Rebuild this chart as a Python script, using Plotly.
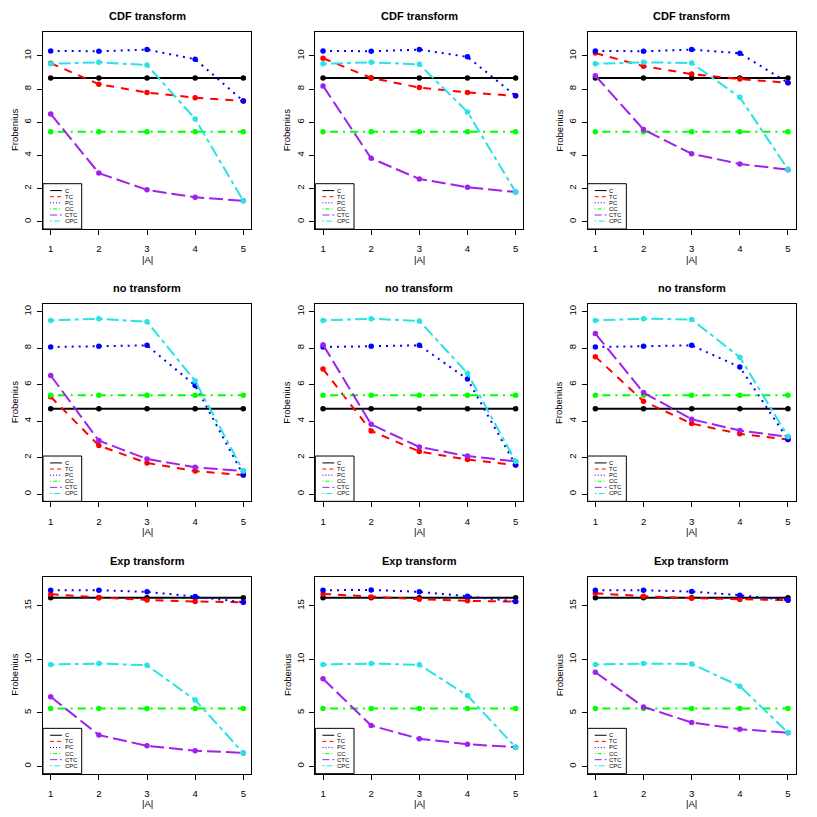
import plotly.graph_objects as go

# |A| values on the x axis
A = [1, 2, 3, 4, 5]
series = ["C", "TC", "PC", "CC", "CTC", "CPC"]
row_titles = ["CDF transform", "no transform", "Exp transform"]

# constant baselines per row
C_cdf = [8.67, 8.67, 8.67, 8.67, 8.67]
C_none = [4.67, 4.67, 4.67, 4.67, 4.67]
C_exp = [15.75, 15.75, 15.75, 15.75, 15.75]
CC_all = [5.42, 5.42, 5.42, 5.42, 5.42]

# CTC / CPC do not change with the transform, only with the column
CTC_col = [
    [6.50, 2.93, 1.92, 1.47, 1.26],
    [8.19, 3.82, 2.58, 2.08, 1.79],
    [8.80, 5.56, 4.10, 3.48, 3.14],
]
CPC_col = [
    [9.52, 9.61, 9.45, 6.20, 1.26],
    [9.52, 9.61, 9.49, 6.62, 1.79],
    [9.52, 9.61, 9.57, 7.50, 3.16],
]

# TC / PC per row, per column
TC_cdf = [
    [9.56, 8.29, 7.79, 7.48, 7.28],
    [9.86, 8.67, 8.09, 7.79, 7.59],
    [10.17, 9.38, 8.90, 8.60, 8.38],
]
PC_cdf = [
    [10.30, 10.28, 10.38, 9.80, 7.28],
    [10.30, 10.28, 10.38, 9.94, 7.59],
    [10.30, 10.28, 10.38, 10.16, 8.38],
]
TC_none = [
    [5.33, 2.66, 1.70, 1.26, 1.04],
    [6.85, 3.46, 2.33, 1.89, 1.59],
    [7.53, 5.09, 3.86, 3.30, 2.99],
]
PC_none = [
    [8.06, 8.10, 8.15, 5.95, 1.04],
    [8.06, 8.10, 8.15, 6.30, 1.59],
    [8.06, 8.10, 8.15, 6.96, 2.99],
]
TC_exp = [
    [16.09, 15.78, 15.56, 15.41, 15.34],
    [16.12, 15.84, 15.62, 15.47, 15.40],
    [16.18, 15.90, 15.72, 15.60, 15.53],
]
PC_exp = [
    [16.46, 16.46, 16.31, 15.87, 15.34],
    [16.46, 16.49, 16.31, 15.90, 15.40],
    [16.46, 16.46, 16.34, 16.00, 15.53],
]

C_rows = [C_cdf, C_none, C_exp]
TC_rows = [TC_cdf, TC_none, TC_exp]
PC_rows = [PC_cdf, PC_none, PC_exp]

y_ranges = [[-0.44, 11.44], [-0.4, 10.4], [-0.68, 17.73]]
y_ticks = [[0, 2, 4, 6, 8, 10], [0, 2, 4, 6, 8, 10], [0, 5, 10, 15]]

colors = {"C": "black", "TC": "#FF0000", "PC": "#0000FF", "CC": "#00FF00",
          "CTC": "#A020F0", "CPC": "#28E2E5"}
dash_plot = {"C": "solid", "TC": "8px,7px", "PC": "2px,5px", "CC": "2px,5px,8px,5px",
             "CTC": "14px,5px", "CPC": "4px,4px,12px,4px"}
dash_leg = {"C": "solid", "TC": "4px,3px", "PC": "1px,2px", "CC": "1px,2px,4px,2px",
            "CTC": "7px,3px", "CPC": "2px,2px,6px,2px"}

FONT = "Liberation Sans, Arial, Helvetica, sans-serif"
W = 817          # reference size
OFF = 8          # page body margin
FW = W - 2 * OFF # figure size
P = W / 3
# plot box inside one panel (pixels)
L, R, T, B = 43, 251, 32, 229

fig = go.Figure()
layout = {}
shapes = []
annotations = []

for r in range(3):
    for c in range(3):
        k = r * 3 + c + 1
        sx = "" if k == 1 else str(k)
        xa, ya = "x" + sx, "y" + sx
        vals = {
            "C": C_rows[r],
            "TC": TC_rows[r][c],
            "PC": PC_rows[r][c],
            "CC": CC_all,
            "CTC": CTC_col[c],
            "CPC": CPC_col[c],
        }
        for s in series:
            fig.add_trace(go.Scatter(
                x=A, y=vals[s], mode="lines+markers", name=s, showlegend=False,
                line=dict(color=colors[s], width=2, dash=dash_plot[s]),
                marker=dict(color=colors[s], size=5.5),
                xaxis=xa, yaxis=ya,
            ))

        x0 = (c * P + L - OFF) / FW
        x1 = (c * P + R - OFF) / FW
        y0 = 1 - (r * P + B - OFF) / FW
        y1 = 1 - (r * P + T - OFF) / FW
        common = dict(showline=True, mirror=True, linecolor="black", linewidth=1,
                      ticks="outside", ticklen=5, tickcolor="black", tickwidth=1,
                      showgrid=False, zeroline=False,
                      tickfont=dict(family=FONT, size=9.5, color="black"))
        layout["xaxis" + sx] = dict(domain=[x0, x1], range=[0.84, 5.16],
                                    tickvals=A, anchor=ya, ticklabelstandoff=6,
                                    **common)
        layout["yaxis" + sx] = dict(domain=[y0, y1], range=y_ranges[r],
                                    tickvals=y_ticks[r], tickangle=-90,
                                    anchor=xa, ticklabelstandoff=2, **common)

        xd, yd = xa + " domain", ya + " domain"
        annotations.append(dict(text="<b>" + row_titles[r] + "</b>", xref=xd, yref=yd,
                                x=0.5, y=1.081, xanchor="center", yanchor="middle",
                                showarrow=False,
                                font=dict(family=FONT, size=11, color="black")))
        annotations.append(dict(text="|A|", xref=xd, yref=yd, x=0.5, y=-0.153,
                                xanchor="center", yanchor="middle", showarrow=False,
                                font=dict(family=FONT, size=9.5, color="black")))
        annotations.append(dict(text="Frobenius", xref=xd, yref=yd, x=-0.137, y=0.5,
                                xanchor="center", yanchor="middle",
                                textangle=-90, showarrow=False,
                                font=dict(family=FONT, size=9.5, color="black")))

        # legend box in the lower left corner
        shapes.append(dict(type="rect", xref=xd, yref=yd, x0=0, x1=0.186, y0=0, y1=0.23,
                           line=dict(color="black", width=1), fillcolor="white"))
        leg_y = [0.195, 0.164, 0.133, 0.102, 0.071, 0.040]
        for i, s in enumerate(series):
            shapes.append(dict(type="line", xref=xd, yref=yd, x0=0.034, x1=0.091,
                               y0=leg_y[i], y1=leg_y[i],
                               line=dict(color=colors[s], width=1, dash=dash_leg[s])))
            annotations.append(dict(text=s, xref=xd, yref=yd, x=0.094, y=leg_y[i],
                                    xanchor="left", yanchor="middle", showarrow=False,
                                    font=dict(family=FONT, size=6, color="black")))

fig.update_layout(
    width=FW, height=FW,
    margin=dict(l=0, r=0, t=0, b=0),
    paper_bgcolor="white", plot_bgcolor="white",
    shapes=shapes, annotations=annotations,
    **layout,
)

fig.write_html("out.html")
